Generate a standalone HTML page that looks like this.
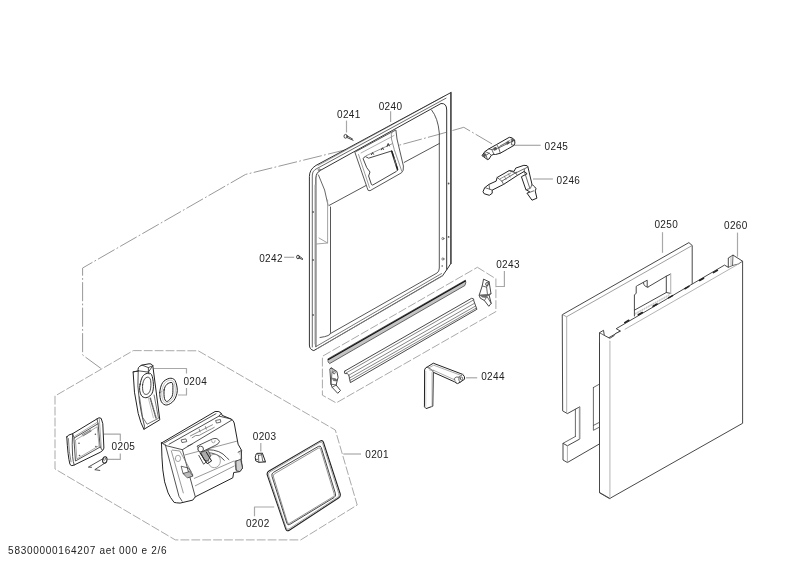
<!DOCTYPE html>
<html><head><meta charset="utf-8">
<style>
html,body{margin:0;padding:0;background:#fff;width:800px;height:566px;overflow:hidden}
svg{display:block;will-change:transform}
text{font-family:"Liberation Sans",sans-serif;font-size:10px;fill:#222}
</style></head><body>
<svg width="800" height="566" viewBox="0 0 800 566">
<g fill="none" stroke="#444" stroke-width="1" stroke-linejoin="round" stroke-linecap="round">
<path d="M100.6,368.2 L82.6,355 L82.6,268 L245.6,174.4 L344,150.2 L386.3,148.7 L438.8,134.4 L463.8,127.3 L491.7,143.7" stroke="#999" stroke-width="1" stroke-dasharray="18.3 3.1 1 3.1"/>
<path d="M133.3,350.6 L198.2,350.8 L335.3,430 L357.2,505 L300.7,539.9 L175.3,539.9 L55,469 L55,396 Z" stroke="#999" stroke-width="0.85" stroke-dasharray="8 2.9"/>
<path d="M477.4,267.3 L495.9,278.8 L495.9,311.6 L336.2,402.9 L322.4,395.2 L322.4,356.3 Z" stroke="#999" stroke-width="0.85" stroke-dasharray="8 2.9"/>
<g stroke="#a8a8a8" stroke-width="1.2" stroke-linecap="butt">
<path d="M346.5,120.6 V132.5"/>
<path d="M390.6,111.3 V121.9"/>
<path d="M515,145.3 H540.6"/>
<path d="M533,179 H552.9"/>
<path d="M284.1,257.3 H294.2"/>
<path d="M496,286.5 H504.4 V271"/>
<path d="M466,377.8 H477.2"/>
<path d="M662.5,232.2 V252.8"/>
<path d="M737.5,232.6 V256.7"/>
<path d="M153.8,368.5 H186.5 V373.5 M186.5,388 V395 H178"/>
<path d="M104,434.2 H120.3 V441 M120.3,453.4 V459.4 H107.4"/>
<path d="M260.8,443 V451.4"/>
<path d="M343.3,454 H361"/>
<path d="M274.2,507 H254.5 V516.3"/>
</g>
<path d="M562.6,314.5 L688.9,242.6 L692.2,245.5 V290 L599.5,343 V443.9 L567.4,462.5 L563,460 V443.3 L567.4,445.8 L579.75,439 V406.8 L567.4,413.6 L563,411.1 Z" fill="#fff" stroke="#333" stroke-width="0.9"/>
<path d="M575.4,409.3 V436.5 M563,443.3 L575.4,436.5" stroke="#444" stroke-width="0.8"/>
<path d="M562.6,314.5 L566.5,316.8 L692.2,245.5" stroke="#888" stroke-width="0.8"/>
<path d="M566.7,317 V413 M567.4,446 V462" stroke="#999" stroke-width="0.8"/>
<path d="M579.2,407.5 V438.5" stroke="#bbb" stroke-width="0.8"/>
<path d="M593.4,387.5 L599.3,384.2 M593.4,387.5 V430.3 L599.3,427.2 M593.4,425.4 L599.3,422.4" stroke="#444" stroke-width="0.8"/>
<path d="M 634.4,316.0 V 294.8 L 636.2,293.4 V 286.4 L 637.5,285.5 L 643.3,282.4 Q 643.7,285.0 645.5,286.4 L 647.7,287.2 L 666.3,276.2 L 670.7,274.0 M 643.3,282.4 L 647.2,280.2 V 286.4 L 647.7,287.2 M 666.3,276.2 V 292.5 M 634.4,310.2 L 666.3,292.5 L 670.7,293.4" stroke="#333" stroke-width="0.9"/>
<path d="M 670.7,274.0 V 293.4" stroke="#bbb" stroke-width="1.2"/>
<path d="M 635.3,313.3 L 669.8,294.3 M 635.3,314.2 L 669.8,295.2" stroke="#aaa" stroke-width="0.7" stroke-dasharray="1 1.5"/>
<path d="M599.5,492.4 V332.7 L603.5,330.3 L604.3,335.4 L609.8,338.3 L614.1,335.6 L615.1,333.8 L620.5,331.1 L616.2,328.7 L724.5,265.1 L728.3,267.3 V258 L733,255.1 L742.6,261.2 V423.3 L609.9,498.4 Z" fill="#fff" stroke="#333" stroke-width="0.9"/>
<path d="M599.5,332.7 L604.3,335.4 M733,255.1 L732.5,265.5 L728.3,267.3 M732.5,265.5 L738.3,264 L742.6,261.2 M599.5,492.4 L609.9,498.4" stroke="#444" stroke-width="0.8"/>
<path d="M609.9,341.2 V497.5" stroke="#c4c4c4" stroke-width="1.3"/>
<path d="M625.1,329.2 L738.3,264.1 M731,257 V265" stroke="#aaa" stroke-width="0.9"/>
<path d="M624.8,322.6 L628.8,320.3 M638.3,314.8 L642.3,312.5 M653.1,306.3 L657.1,304.0 M668.6,297.9 L672.6,295.6 M684.9,288.7 L688.9,286.4 M699.6,280.5 L703.6,278.2 M713.4,272.6 L717.4,270.3" stroke="#222" stroke-width="1.6"/>
<!-- frame 0240 outer -->
<g id="frame" stroke="#333">
<path d="M451,92.5 L316,165.4 Q309.4,169.4 309.4,176.5 V345 L316,345 V178 Q316,172.5 320.5,170.3 L441,103.5 Q446.7,103 446.7,110 V269.4 L451,263.3 Z" fill="#fff" stroke="none"/>
<path d="M450.9,93 V263" stroke="#555" stroke-width="1.8"/>
<path d="M444,96.3 L318,165.5" stroke="#777" stroke-width="0.7"/>
<path d="M446,98.2 L315,169.6 Q312.3,171.6 312.3,175 V347" stroke="#444" stroke-width="0.8"/>
<path d="M451,92.5 L316,165.4 Q309.4,169.4 309.4,176.5 V345 Q309.4,349.5 313.8,350.6 L442.6,275.6 L447,269.4 L451,263.3" stroke="#333"/>
<path d="M446.7,269.4 V110 Q446.7,103 441,103.5 L320.5,170.3 Q316,172.8 315.9,178 V346.6" stroke="#333"/>
<path d="M315.0,185 V344" stroke="#aaa" stroke-width="1.1"/>
<path d="M315.9,346.6 L441.5,273.6" stroke="#555" stroke-width="0.8"/>
<path d="M317,348.8 L443,275.7" stroke="#888" stroke-width="0.8"/>
<path d="M330.5,207 V332.8 Q331,336 320,337.5 M330.7,333.4 L437,273 Q439.3,271.5 439.3,268 V133 Q438,118 431.6,110" stroke="#444" stroke-width="0.9"/>
<path d="M318.5,175 Q326,190 328,205" stroke="#555" stroke-width="0.9"/>
<path d="M327.6,200 V243 L316.5,244 M319,238 L327.6,243" stroke="#999" stroke-width="0.9"/>
<path d="M329,205.5 L366,185.5 M404.2,162.4 L439.3,143.5" stroke="#444" stroke-width="0.9"/>
<!-- hood -->
<path d="M355,152.6 L367.1,187.6 Q367.6,191.5 370,190.7 L401.5,172.8 Q403.9,171 403.4,166 L397,139 L395.9,130 L390,133 L356,151.5 Z" fill="#fff" stroke="#444" stroke-width="0.9"/>
<path d="M392.7,130.6 Q390.5,134 391.5,139 L394.3,149.7 L401.7,171" stroke="#777" stroke-width="0.8"/>
<path d="M358.5,154.5 L369.5,187.5" stroke="#888" stroke-width="0.8"/>
<path d="M363.25,158.4 Q363.6,157 365.5,156.6 L368.6,158.2 L391.9,150.9 L397.6,168.7 Q398,170.3 396.4,171.4 L372.8,185 Q371.8,185.3 371.4,184.4 L368.6,176 L370,172 L367,168 Z" stroke="#333" stroke-width="0.9"/>
<path d="M391.7,151.3 L397.5,169.6" stroke="#222" stroke-width="1.6"/>
<path d="M394,158 L396,165" stroke="#777" stroke-width="0.8"/>
<path d="M361,153 L394,135.5" stroke="#999" stroke-width="0.8"/>
<path d="M366,155.8 L392,143.8" stroke="#666" stroke-width="0.7"/><path d="M371.5,154.6 l1,-2 l1,1.6 M381.5,149.8 l1,-2 l1,1.6 M387,146.5 l1.2,-3 l1.2,2.4" stroke="#333" stroke-width="1"/>
<g fill="#555" stroke="none">
<circle cx="448.6" cy="183.5" r="0.9"/><circle cx="448.6" cy="236.9" r="0.9"/>
<circle cx="313" cy="212" r="0.9"/><circle cx="313" cy="260" r="0.9"/><circle cx="313" cy="315" r="0.9"/>
<circle cx="442.2" cy="266" r="0.8"/>
</g>
<circle cx="319.2" cy="169.9" r="1.1" stroke="#555" stroke-width="0.7"/>
<circle cx="442.9" cy="238.6" r="1.1" stroke="#555" stroke-width="0.7"/>
<circle cx="442.9" cy="259" r="1.1" stroke="#555" stroke-width="0.7"/>
</g>
<!-- screws -->
<g stroke="#333" stroke-width="0.9">
<ellipse cx="345.6" cy="136.3" rx="1.6" ry="1.9"/><path d="M347,137.5 L353.1,140.3 M347,135.8 L352.5,139"/>
<ellipse cx="298" cy="257" rx="1.4" ry="1.8"/><path d="M299,258 L302.5,259.5 M299,256 L302.5,258.5"/>
</g>


<!-- 0243 group -->
<g id="g0243">
<path d="M328.2,358.7 L465.4,280.2 L465.8,282.6 L464.9,285.5 L329.6,363.6 L328.4,362.2 Z" fill="#c4c4c4" stroke="#444" stroke-width="0.8"/>
<path d="M328.5,359.4 L465.4,281.1" stroke="#111" stroke-width="1.2"/>
<path d="M344.9,371 L471.6,298.3 Q474.5,298.3 473.8,300.8 L476.9,309.3 L350.4,382.6 L348.8,375 Q347.5,372.8 344.8,373.6 Q343.8,372 344.9,371 Z" fill="#fff" stroke="#333" stroke-width="0.9"/>
<path d="M345.7,373.2 L473.5,300 M348.6,375.3 L474.6,303.2 M349.2,378.2 L475.6,306 M349.9,380.5 L476.4,308" stroke="#666" stroke-width="0.8"/>
<path d="M 483.9,279.3 L 489.1,281.8 L 491.0,293.7 L 489.1,295.2 L 491.2,303.4 L 488.8,306.3 L 484.4,300.5 L 480.2,298.1 L 479.2,295.2 L 482.2,285.9 Z" fill="#fff" stroke="#333" stroke-width="0.9"/>
<path d="M 482.2,285.9 L 486.6,287.2 L 489.1,281.8 M 486.6,287.2 L 487.5,294.8 L 479.2,295.2 M 487.5,294.8 L 491.0,293.7 M 484.8,296.5 L 489.1,295.2 M 484.4,300.5 L 487.0,296.5 L 491.2,303.4 M 485.7,284.1 a 1.33,1.59 0 1 0 2.65,0.00 a 1.33,1.59 0 1 0 -2.65,0.00" stroke="#444" stroke-width="0.8"/>
<path d="M 480.8,295.2 L 486.6,294.8 L 485.7,297.4 L 482.2,297.0 Z" fill="#777" stroke="#444" stroke-width="0.6"/>
<path d="M 330.2,368.7 L 331.4,367.9 L 336.9,371.5 L 338.1,377.4 L 336.9,381.8 L 336.1,385.0 L 340.5,390.5 L 337.7,393.3 L 332.2,387.4 L 331.0,384.2 Z" fill="#fff" stroke="#333" stroke-width="0.9"/>
<path d="M 331.0,384.2 L 336.1,385.0 M 332.2,387.4 L 336.1,385.0 M 332.9,372.3 a 1.19,1.59 0 1 0 2.38,0.00 a 1.19,1.59 0 1 0 -2.38,0.00 M 331.4,367.9 L 332.2,369.9 L 331.0,384.2" stroke="#444" stroke-width="0.8"/>
<path d="M 332.6,378.2 L 336.1,379.0 L 336.9,381.0 L 333.7,380.6 Z" fill="#777" stroke="#444" stroke-width="0.6"/>
</g>


<path d="M 482.2,155.3 L 484.9,151.6 L 488.6,149.0 L 496.6,144.5 L 509.3,137.3 L 511.9,137.8 L 514.6,140.0 L 514.9,143.1 L 514.1,145.3 L 507.7,149.0 L 500.3,153.2 L 495.5,154.5 L 493.9,154.3 L 491.3,155.3 L 489.1,159.0 L 487.5,159.6 L 483.8,156.9 Z" fill="#fff" stroke="#222" stroke-width="1"/>
<path d="M 488.6,149.0 L 491.8,149.5 L 493.9,154.3 M 491.8,149.5 L 498.7,147.9 L 511.9,141.5 L 514.6,140.0 M 511.9,141.5 L 511.4,144.7 L 514.1,145.3 M 498.7,147.9 L 500.3,153.2 M 496.6,144.5 L 498.7,147.9 M 484.9,151.6 L 489.1,153.2 L 491.3,155.3 M 487.5,159.6 L 486.0,155.3 L 489.1,153.2" stroke="#444" stroke-width="0.8"/>
<path d="M 499.2,146.8 L 507.7,142.1 M 500.3,145.8 L 509.8,140.5 M 493.9,147.9 L 496.0,147.4 M 506.6,142.6 L 507.7,141.0" stroke="#666" stroke-width="0.7"/>
<path d="M 482.8,155.6 L 484.4,153.2 L 486.0,154.3 L 484.9,156.9 Z M 493.9,148.4 L 496.0,147.4 L 496.6,149.5 L 494.4,150.3 Z M 506.6,143.1 L 508.8,141.5 L 509.3,143.1 L 507.4,144.2 Z M 511.4,138.9 L 513.5,139.4 L 513.0,141.5 L 511.9,141.3 Z" fill="#555" stroke="#444" stroke-width="0.6"/>
<path d="M 484.9,187.6 L 488.9,184.4 L 496.2,181.1 L 497.1,177.5 L 509.2,170.6 L 514.1,171.4 L 515.7,168.1 L 523.9,165.3 L 527.1,165.7 L 527.9,166.9 L 532.0,184.4 L 533.6,186.0 L 536.1,188.4 L 535.2,190.9 L 536.9,198.2 L 532.0,200.2 L 527.1,193.3 L 529.6,191.7 L 525.9,189.7 L 521.4,176.7 L 527.1,173.8 L 524.3,171.4 L 517.4,175.4 L 503.6,184.4 L 492.2,190.1 L 492.2,193.3 L 489.3,195.3 L 484.1,193.7 L 483.2,192.1 Z" fill="#fff" stroke="#222" stroke-width="1"/>
<path d="M 497.1,177.5 L 501.9,181.1 L 503.6,184.4 M 501.9,181.1 L 516.6,172.2 M 509.2,170.6 L 515.7,173.0 L 517.4,175.4 M 527.9,166.9 L 524.3,168.9 L 524.3,171.4 M 515.7,173.0 L 523.9,168.9 M 484.9,187.6 L 489.7,189.2 L 492.2,190.1 M 489.7,189.2 L 488.9,184.4 M 525.9,189.7 L 530.4,188.4 L 532.0,184.4 M 527.1,193.3 L 533.6,190.9 M 524.3,171.4 L 529.6,187.6" stroke="#444" stroke-width="0.8"/>
<path d="M 500.3,178.7 L 510.9,173.0 M 504.4,176.2 L 506.0,179.5 M 508.4,173.8 L 510.1,177.1" stroke="#666" stroke-width="0.7"/>
<path d="M 424.7,369.5 Q 425.2,367.5 427.1,367.1 L 433.3,363.2 L 460.9,373.7 L 462.8,374.4 Q 465.2,376.6 464.6,379.2 L 460.0,382.3 L 457.6,383.6 Q 455.7,383.0 454.7,381.9 L 433.3,372.3 L 432.8,406.2 L 426.1,408.6 L 424.7,407.1 Z" fill="#fff" stroke="#222" stroke-width="1"/>
<path d="M 427.1,367.1 Q 430.4,368.5 432.3,370.4 L 433.3,372.3 M 460.0,382.3 Q 458.1,380.4 459.0,377.1 L 462.8,374.4 M 454.7,379.9 L 454.3,378.5 L 456.2,377.1 L 459.0,377.1" stroke="#444" stroke-width="0.8"/>
<path d="M 428.5,368.0 L 433.7,365.2 L 460.5,375.2 L 462.8,374.4 M 429.5,369.9 L 433.7,370.4 L 454.7,379.9 Q 455.7,381.9 457.1,383.3 M 432.3,370.4 L 433.7,370.4" stroke="#888" stroke-width="0.7"/>
<path d="M 425.8,371.4 V 407.1 M 431.8,372.3 V 406.7" stroke="#bbb" stroke-width="0.7"/>
<path d="M 460.3,378.5 a 1.15,1.34 0 1 0 2.29,0.00 a 1.15,1.34 0 1 0 -2.29,0.00" stroke="#444" stroke-width="0.8"/>
<path d="M267.4,475.4 Q266.4,472.6 269.0,471.1 L320.0,441.1 Q322.6,439.6 323.5,442.5 L340.1,493.5 Q341.0,496.4 338.5,498.0 L289.3,530.2 Q286.8,531.8 285.8,529.0 Z" stroke="#222" stroke-width="1.1"/>
<path d="M268.6,475.6 Q267.8,473.2 270.0,471.9 L319.7,442.5 Q321.9,441.2 322.7,443.6 L338.8,493.6 Q339.6,496.0 337.5,497.4 L289.1,528.9 Q287.0,530.3 286.2,527.9 Z" stroke="#777" stroke-width="0.7"/>
<path d="M271.9,476.0 Q271.2,473.6 273.4,472.4 L318.4,446.4 Q320.6,445.2 321.3,447.6 L335.5,493.8 Q336.2,496.2 334.1,497.5 L289.7,524.5 Q287.6,525.8 286.9,523.4 Z" stroke="#333" stroke-width="0.9"/>
<path d="M273.4,476.7 Q272.8,474.8 274.5,473.8 L318.3,448.2 Q320.0,447.2 320.6,449.1 L334.2,493.9 Q334.8,495.8 333.1,496.8 L289.7,523.2 Q288.0,524.2 287.4,522.3 Z" stroke="#666" stroke-width="0.7"/>
<path d="M 255.7,455.2 Q 256.0,453.6 257.1,453.4 L 262.4,453.2 L 265.5,461.9 L 258.8,462.3 L 255.7,460.8 L 255.3,457.7 Z" fill="#fff" stroke="#222" stroke-width="1"/>
<path d="M 257.1,453.4 L 258.5,455.4 L 261.7,454.7 L 262.4,453.2 M 258.5,455.4 L 258.8,462.3 M 261.7,454.7 L 262.7,461.2 L 265.5,461.9 M 256.0,459.4 L 257.6,459.4" stroke="#444" stroke-width="0.8"/>
<path d="M 66.8,436.9 Q 67.3,434.8 72.6,433.7 L 97.0,418.9 Q 99.1,416.8 101.2,418.4 L 102.8,423.7 L 103.9,448.1 Q 103.4,450.7 100.2,452.3 L 74.2,465.0 Q 71.5,466.6 70.0,464.5 Q 67.8,456.5 66.8,436.9 Z" fill="#fff" stroke="#222" stroke-width="1"/>
<path d="M 72.6,433.7 Q 71.8,443.8 72.6,456.5 Q 73.1,461.8 74.2,465.0 M 74.2,438.0 L 98.1,423.7 L 100.2,447.0 L 75.8,460.8 Z M 72.6,433.7 L 74.2,438.0 M 97.0,418.9 L 98.1,423.7 M 100.2,447.0 L 102.3,450.2" stroke="#333" stroke-width="0.85"/>
<path d="M 75.8,439.8 L 97.2,426.8 L 99.1,445.7 L 77.2,458.7 Z M 99.3,418.4 L 101.4,448.6 M 74.7,436.4 L 97.5,422.1" stroke="#888" stroke-width="0.7"/>
<path d="M 82.1,434.8 L 90.6,430.0 M 83.2,435.9 L 91.2,431.1 M 68.4,438.5 Q 68.9,452.3 71.0,461.8" stroke="#666" stroke-width="0.8"/>
<circle cx="79.0" cy="443.3" r="0.8" fill="#555" stroke="none"/>
<circle cx="95.4" cy="434.3" r="0.8" fill="#555" stroke="none"/>
<circle cx="95.9" cy="446.5" r="0.8" fill="#555" stroke="none"/>
<circle cx="79.5" cy="455.5" r="0.8" fill="#555" stroke="none"/>
<path d="M 102.7,460.0 a 2.12,2.79 15 1 0 4.24,0.00 a 2.12,2.79 15 1 0 -4.24,0.00" stroke="#222" stroke-width="1.1"/>
<path d="M 103.8,458.3 a 0.93,1.59 20 1 0 1.86,0.00" stroke="#444" stroke-width="0.7"/>
<path d="M 103.0,458.7 L 89.7,466.3 L 88.4,467.1 L 91.5,467.3 M 106.5,462.0 L 94.8,469.7 L 99.8,470.4" stroke="#333" stroke-width="0.85"/>
<path d="M 133.1,372.1 Q 133.3,391.8 138.2,413.4 Q 140.7,423.6 143.9,429.3 L 159.8,419.8 L 152.8,365.7 Q 151.5,363.2 149.0,363.8 L 142.0,365.1 Q 136.9,367.0 138.2,370.8 Z" fill="#fff" stroke="#222" stroke-width="1"/>
<path d="M 133.1,372.1 L 138.2,370.8 L 148.4,372.1 L 152.8,365.7 M 138.2,370.8 Q 136.9,385.4 139.5,402.0 Q 141.4,414.7 144.5,426.2 L 143.9,429.3 M 148.4,372.1 L 149.0,374.0 M 142.0,365.1 L 148.4,367.6 L 152.8,365.7 M 148.4,367.6 L 148.4,372.1" stroke="#333" stroke-width="0.85"/>
<path d="M 139.5,396.9 L 142.6,417.3 L 147.1,424.2 L 158.5,418.3 L 154.1,395.0" stroke="#555" stroke-width="0.8"/>
<path d="M 150.3,398.2 L 156.0,417.9" stroke="#666" stroke-width="1.6" stroke-dasharray="1.2 1.3"/>
<path d="M 148.4,398.2 L 153.4,417.9" stroke="#999" stroke-width="0.6"/>
<path d="M140.1,384.2 C140.6,381.8 141.5,378.3 142.6,376.5 C143.8,374.7 145.6,373.7 147.1,373.4 C148.6,373.0 150.5,372.8 151.5,374.6 C152.6,376.4 153.3,381.1 153.4,384.2 C153.6,387.2 153.2,390.9 152.2,393.1 C151.1,395.3 148.8,397.0 147.1,397.5 C145.4,398.1 143.2,397.4 142.0,396.3 C140.8,395.1 140.0,392.5 139.7,390.5 C139.4,388.5 139.6,386.5 140.1,384.2 Z" stroke="#222" stroke-width="1"/>
<path d="M142.6,384.8 C142.8,382.6 143.7,380.4 144.5,379.1 C145.4,377.8 146.8,377.2 147.7,377.2 C148.7,377.2 149.7,377.7 150.3,379.1 C150.8,380.5 151.0,383.3 150.9,385.4 C150.8,387.6 150.4,390.3 149.6,391.8 C148.9,393.3 147.5,394.2 146.4,394.4 C145.4,394.5 143.9,394.0 143.3,392.4 C142.6,390.9 142.4,387.0 142.6,384.8 Z" stroke="#333" stroke-width="0.9"/>
<path d="M159.8,392.3 C160.0,389.1 161.0,385.0 162.6,382.7 C164.1,380.4 167.3,378.8 169.3,378.4 C171.4,378.0 173.6,378.3 174.9,380.3 C176.2,382.4 177.4,387.4 177.3,390.7 C177.1,394.0 175.8,397.8 174.1,400.2 C172.4,402.6 169.1,404.7 166.9,405.0 C164.8,405.3 162.6,403.9 161.4,401.8 C160.2,399.7 159.6,395.5 159.8,392.3 Z" fill="#fff" stroke="#222" stroke-width="1"/>
<path d="M164.1,389.9 C164.5,387.5 165.6,385.5 166.9,384.3 C168.3,383.1 171.1,381.9 172.1,382.7 C173.1,383.5 172.9,386.8 172.9,389.1 C172.9,391.3 173.0,394.2 172.1,396.3 C171.2,398.3 168.6,401.0 167.3,401.4 C166.1,401.8 165.1,400.6 164.5,398.6 C164.0,396.7 163.8,392.3 164.1,389.9 Z" stroke="#222" stroke-width="1"/>
<path d="M161.8,391.5 C162.0,388.7 163.3,385.4 164.5,383.5 C165.8,381.7 167.8,380.6 169.3,380.3 C170.8,380.1 172.7,380.2 173.7,381.9 C174.7,383.7 175.4,387.9 175.3,390.7 C175.2,393.5 174.3,396.6 172.9,398.6 C171.5,400.7 168.6,402.7 166.9,403.0 C165.3,403.3 163.8,402.2 163.0,400.2 C162.1,398.3 161.5,394.3 161.8,391.5 Z" stroke="#999" stroke-width="0.6"/>
<path d="M 161.5,443.0 L 215.1,411.5 Q 219.5,410.7 221.3,413.3 L 222.2,415.4 L 231.0,419.0 Q 233.7,420.4 234.2,423.0 L 238.1,444.2 L 241.6,450.4 L 241.1,461.0 L 242.5,468.1 L 239.9,471.6 L 233.7,472.5 L 232.8,477.8 L 195.3,496.8 L 192.8,500.1 L 180.1,503.1 Q 176.2,502.9 174.1,502.4 Q 170.0,497.3 168.1,492.9 Q 163.8,482.3 162.8,469.9 Q 161.7,457.5 161.5,443.0 Z" fill="#fff" stroke="#222" stroke-width="1"/>
<path d="M 161.2,442.5 L 165.6,445.5 L 182.4,449.7 L 231.9,420.0 M 163.5,443.4 L 216.0,413.7 M 165.3,444.6 L 179.0,496.4 L 182.1,501.2 M 182.4,449.7 L 195.3,496.8 M 221.3,413.3 L 219.0,416.1 L 231.0,419.0 M 219.0,416.1 L 169.1,444.2" stroke="#333" stroke-width="0.85"/>
<path d="M 172.3,450.1 L 179.8,451.0 L 191.2,471.6 M 185.1,454.9 L 236.7,441.2 M 194.3,478.4 L 234.0,461.0 M 195.3,485.8 L 234.2,466.0 M 171.3,450.8 L 183.3,492.9" stroke="#777" stroke-width="0.75"/>
<path d="M 197.4,446.0 L 212.5,438.9 Q 217.8,437.2 219.5,441.6 Q 218.6,444.2 215.1,445.5 L 201.9,451.8 Z" fill="#fff" stroke="#333" stroke-width="0.85"/>
<path d="M 208.0,449.7 Q 220.4,449.7 226.6,457.5 L 228.9,459.6 M 206.6,452.6 Q 217.8,452.6 224.3,460.3 M 200.1,452.6 L 206.3,461.9 L 203.6,464.2 L 198.8,455.4" stroke="#333" stroke-width="0.85"/>
<path d="M 197.8,449.0 a 2.83,2.83 0 1 0 5.66,0.00 a 2.83,2.83 0 1 0 -5.66,0.00" fill="#fff" stroke="#333" stroke-width="0.85"/>
<path d="M 208.0,461.0 a 6.19,6.72 0 1 0 12.38,0.00 a 6.19,6.72 0 1 0 -12.38,0.00 M 175.3,458.4 a 2.65,3.18 0 1 0 5.30,0.00 a 2.65,3.18 0 1 0 -5.30,0.00 M 211.6,440.7 a 1.77,2.12 0 1 0 3.54,0.00" stroke="#888" stroke-width="0.75"/>
<path d="M 181.5,466.3 L 188.6,468.1 L 193.0,475.2 L 188.6,477.0 L 183.3,473.4 Z M 235.4,461.0 L 241.6,461.0 L 242.0,469.0 L 236.3,469.9 Z M 181.5,439.8 L 185.9,438.9 L 186.8,441.6 L 182.4,442.5 Z M 216.0,420.4 L 220.4,419.5 L 220.8,422.1 L 216.9,423.0 Z M 187.7,446.0 L 192.1,444.2" stroke="#444" stroke-width="0.8"/>
<path d="M 190.4,435.9 L 212.5,424.8 M 192.1,437.7 Q 195.7,434.5 199.2,435.4 L 208.0,430.6 Q 211.6,428.9 214.2,427.4 M 199.2,429.2 L 200.1,431.9 M 205.4,426.6 L 206.3,429.2" stroke="#666" stroke-width="0.75"/>
<path d="M 201.3,452.2 L 208.0,450.1 L 210.7,455.7 L 208.0,461.0 L 204.5,460.2 Z" fill="#aaa" stroke="#333" stroke-width="0.7"/>
<path d="M 200.1,453.1 L 207.2,463.7 L 211.6,461.0 L 206.3,452.2" stroke="#222" stroke-width="1"/>
<path d="M 236.3,461.0 L 240.7,459.3 L 242.5,468.1 L 239.9,471.6 L 236.7,470.8 Z M 238.1,452.2 L 241.3,450.4 L 241.6,458.4" fill="#d0d0d0" stroke="#333" stroke-width="0.8"/>
<path d="M 183.3,473.4 L 189.5,471.6 L 193.0,476.1 L 187.7,477.8 Z" fill="#bbb" stroke="#333" stroke-width="0.7"/>

</g>
<g>
<text x="337.0" y="118.1" letter-spacing="0.35">0241</text>
<text x="378.7" y="109.7" letter-spacing="0.35">0240</text>
<text x="544.6" y="149.7" letter-spacing="0.35">0245</text>
<text x="556.6" y="184.3" letter-spacing="0.35">0246</text>
<text x="259.2" y="262.2" letter-spacing="0.35">0242</text>
<text x="496.2" y="267.7" letter-spacing="0.35">0243</text>
<text x="481.2" y="380.4" letter-spacing="0.35">0244</text>
<text x="654.4" y="228.2" letter-spacing="0.35">0250</text>
<text x="724.0" y="229.1" letter-spacing="0.35">0260</text>
<text x="183.4" y="384.9" letter-spacing="0.35">0204</text>
<text x="111.6" y="450.2" letter-spacing="0.35">0205</text>
<text x="252.8" y="439.8" letter-spacing="0.35">0203</text>
<text x="365.3" y="457.7" letter-spacing="0.35">0201</text>
<text x="245.9" y="527.1" letter-spacing="0.35">0202</text>
<text x="8.1" y="554.0" letter-spacing="0.72">58300000164207 aet 000 e 2/6</text>
</g>
</svg>
</body></html>
